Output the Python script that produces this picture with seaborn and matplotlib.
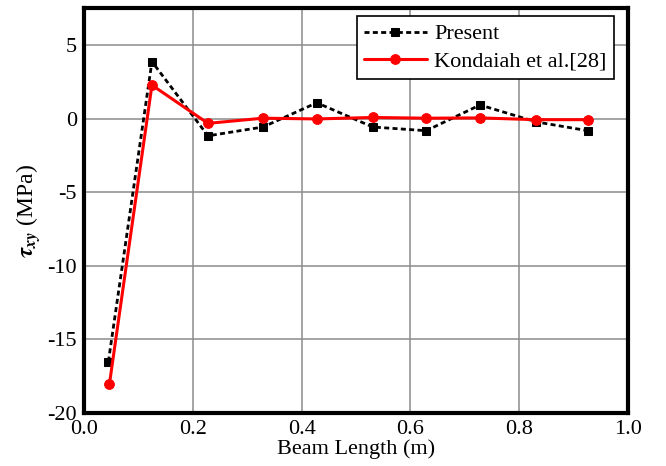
import matplotlib
matplotlib.use("Agg")
import matplotlib.pyplot as plt
from matplotlib.ticker import MultipleLocator, FormatStrFormatter, FuncFormatter
import seaborn as sns
import pandas as pd

# Shear stress along the beam length
beam_x_present = [0.045, 0.125, 0.228, 0.329, 0.428, 0.531, 0.629, 0.728, 0.831, 0.926]
tau_present = [-16.5, 3.9, -1.15, -0.55, 1.1, -0.55, -0.8, 0.95, -0.2, -0.8]

beam_x_ref = [0.047, 0.125, 0.228, 0.329, 0.428, 0.531, 0.629, 0.728, 0.831, 0.926]
tau_ref = [-18.0, 2.3, -0.3, 0.05, 0.0, 0.1, 0.05, 0.07, -0.05, -0.05]

label_present = "Present"
label_ref = "Kondaiah et al.[28]"

sns.set_theme(style="white")
plt.rcParams["font.family"] = ["Liberation Serif", "DejaVu Serif"]
plt.rcParams["mathtext.fontset"] = "stix"

df_p = pd.DataFrame({"x": beam_x_present, "tau": tau_present})
df_r = pd.DataFrame({"x": beam_x_ref, "tau": tau_ref})

fig = plt.figure(figsize=(6.66, 4.66), dpi=100)
ax = fig.add_axes([0.126, 0.1137, 0.817, 0.8693])

sns.lineplot(data=df_p, x="x", y="tau", ax=ax, color="black", linewidth=2.0,
             linestyle=(0, (1.8, 1.2)), marker="s", markersize=6,
             markeredgecolor="black", label=label_present, sort=False)
sns.lineplot(data=df_r, x="x", y="tau", ax=ax, color="#ff0000", linewidth=2.2,
             marker="o", markersize=7, markeredgecolor="#ff0000",
             label=label_ref, sort=False)

ax.set_xlim(0.0, 1.0)
ax.set_ylim(-20, 7.55)
ax.xaxis.set_major_locator(MultipleLocator(0.2))
ax.xaxis.set_minor_locator(MultipleLocator(0.1))
ax.yaxis.set_major_locator(MultipleLocator(5))
ax.yaxis.set_minor_locator(MultipleLocator(2.5))
ax.xaxis.set_major_formatter(FormatStrFormatter("%.1f"))
ax.yaxis.set_major_formatter(FuncFormatter(lambda v, p: f"{int(v)}"))

ax.grid(True, which="major", color="#8c8c8c", linewidth=1.1)
ax.set_axisbelow(True)
for s in ax.spines.values():
    s.set_color("black")
    s.set_linewidth(3.0)
ax.tick_params(which="both", direction="in", color="black", labelsize=16,
               labelcolor="black", top=False, right=False)
ax.tick_params(which="major", length=5, width=1.2, pad=5)
ax.tick_params(which="minor", length=3, width=1.0)

ax.set_xlabel("Beam Length (m)", fontsize=16, color="black", labelpad=0)
ax.set_ylabel(r"$\boldsymbol{\tau}_{\boldsymbol{xy}}$ (MPa)", fontsize=17,
              color="black", labelpad=3)

leg = ax.legend(loc="upper right", fontsize=16, frameon=True, fancybox=False,
                framealpha=1, edgecolor="black", handlelength=2.8,
                borderpad=0.35, labelspacing=0.3, handletextpad=0.35,
                borderaxespad=0.0, bbox_to_anchor=(0.975, 0.98))
leg.get_frame().set_linewidth(1.2)
for t in leg.get_texts():
    t.set_color("black")

fig.savefig("out.png", dpi=100)
